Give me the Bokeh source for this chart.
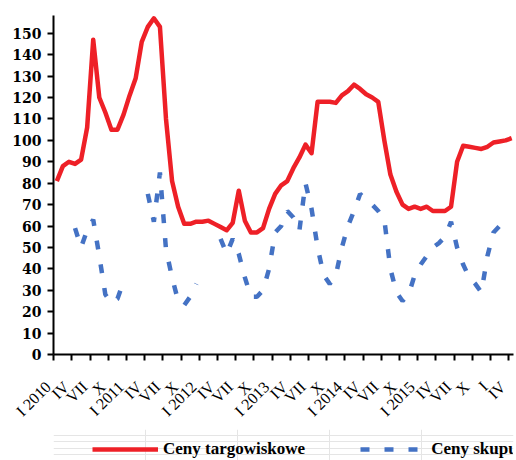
import math
from bokeh.plotting import figure
from bokeh.layouts import column
from bokeh.models import FixedTicker, Legend, LegendItem, Range1d
from bokeh.embed import file_html
from bokeh.resources import INLINE

# month index 0 = I 2010 ... 75 = IV 2016
months = list(range(76))

ceny_targowiskowe = [
    81, 88, 90, 89, 91, 106, 147, 120, 113, 105, 105, 112,
    121, 129, 146, 153, 157, 153, 110, 81, 69, 61, 61, 62,
    62, 62.5, 61, 59.5, 58, 61.5, 76.5, 62.5, 57, 57, 59, 68,
    75, 79, 81, 87, 92, 98, 94, 118, 118, 118, 117.5, 121,
    123, 126, 124, 121.5, 120, 118, 100, 84, 76, 70, 68, 69,
    68, 69, 67, 67, 67, 69, 90, 97.5, 97, 96.5, 96, 97,
    99, 99.5, 100, 101,
]

N = None
ceny_skupu = [
    N, N, N, 59, 50, 58, 63, 46, 28, 24, 26, 34,
    N, N, N, 75, 62, 85, 49, 36, 25, 23, 27, 33,
    N, N, N, 54, 47, 54, 47, 36, 27, 27, 30, 40,
    57, 60, 67, 64, 58, 80, 68, 50, 37, 33, 37, 50,
    60, 67, 75, 72, 70, 67, 63, 40, 29, 25, 28, 37,
    42, 46, 50, 52, 55, 62, 50, 42, 36, 33, 29, 46,
    57, 60, 66, N,
]

tick_labels = [
    "I 2010", "IV", "VII", "X", "I 2011", "IV", "VII", "X",
    "I 2012", "IV", "VII", "X", "I 2013", "IV", "VII", "X",
    "I 2014", "IV", "VII", "X", "I 2015", "IV", "VII", "X",
    "I", "IV",
]
y_ticks = list(range(0, 151, 10))
series_names = ["Ceny targowiskowe", "Ceny skupu"]

RED = "#EE2027"
BLUE = "#4472C4"
NBSP = "\u00a0"

p = figure(frame_width=460, frame_height=339, output_backend="svg",
           toolbar_location=None,
           x_range=Range1d(-0.55, 75.3), y_range=Range1d(0, 158.3),
           min_border_left=53, min_border_right=1, min_border_top=15,
           min_border_bottom=75)
p.outline_line_color = None
p.xgrid.visible = False
p.ygrid.visible = False
p.background_fill_color = "white"
p.border_fill_color = "white"

blue_vals = [float("nan") if v is None else v for v in ceny_skupu]

p.line(months, ceny_targowiskowe, line_color=RED, line_width=4.5,
       line_join="round")
p.line(months, blue_vals, line_color=BLUE, line_width=4.5, line_dash="9 15")

tick_pos = [3 * k - 0.5 for k in range(len(tick_labels))]
xa = p.xaxis[0]
xa.ticker = FixedTicker(ticks=tick_pos)
# trailing no-break spaces nudge the rotated labels left of their ticks
xa.major_label_overrides = {t: lab + NBSP * 2
                            for t, lab in zip(tick_pos, tick_labels)}
xa.major_label_orientation = math.pi / 4
xa.major_label_text_font = "Liberation Serif"
xa.major_label_text_font_size = "16px"
xa.major_label_text_color = "black"
xa.major_label_standoff = 18
xa.axis_line_width = 2
xa.axis_line_color = "black"
xa.major_tick_line_width = 2
xa.major_tick_line_color = "black"
xa.major_tick_out = 6
xa.major_tick_in = 0
xa.minor_tick_out = 0
xa.minor_tick_in = 0

ya = p.yaxis[0]
ya.ticker = FixedTicker(ticks=y_ticks)
ya.major_label_text_font = "DejaVu Serif"
ya.major_label_text_font_style = "bold"
ya.major_label_text_font_size = "14px"
ya.major_label_text_color = "black"
ya.major_label_standoff = 6
ya.axis_line_width = 2
ya.axis_line_color = "black"
ya.major_tick_line_width = 2
ya.major_tick_line_color = "black"
ya.major_tick_out = 6
ya.major_tick_in = 0
ya.minor_tick_out = 0
ya.minor_tick_in = 0

# legend strip below the chart
p2 = figure(width=514, height=31, output_backend="svg", toolbar_location=None,
            x_axis_location=None, y_axis_location=None,
            x_range=Range1d(0, 1), y_range=Range1d(0, 1), min_border=0)
p2.outline_line_color = None
p2.background_fill_color = "white"
p2.border_fill_color = "white"
k_red = p2.line([5, 6], [5, 5], line_color=RED, line_width=4.5)
k_blue = p2.line([5, 6], [5, 5], line_color=BLUE, line_width=4.5,
                 line_dash="9 15")

legend = Legend(items=[
    LegendItem(label=series_names[0], renderers=[k_red]),
    LegendItem(label=series_names[1], renderers=[k_blue]),
], orientation="horizontal", location=(39, 1))
legend.label_text_font = "Liberation Serif"
legend.label_text_font_style = "bold"
legend.label_text_font_size = "17px"
legend.label_text_color = "black"
legend.glyph_width = 66
legend.glyph_height = 18
legend.label_standoff = 5
legend.spacing = 55
legend.padding = 0
legend.margin = 0
legend.border_line_color = None
legend.background_fill_alpha = 0
p2.add_layout(legend, "center")

layout = column(p, p2, spacing=0)

open("out.html", "w").write(file_html(layout, INLINE))
